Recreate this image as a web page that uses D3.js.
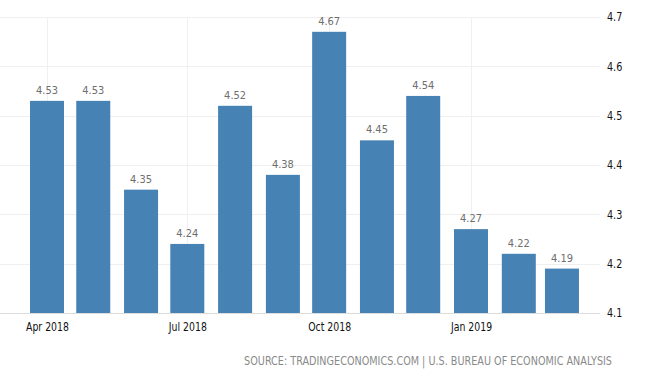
<!DOCTYPE html>
<html>
<head>
<meta charset="utf-8">
<script src="https://cdnjs.cloudflare.com/ajax/libs/d3/7.8.5/d3.min.js"></script>
<style>
    body { margin: 0; background: #fff; }
    text { font-family: "DejaVu Sans", sans-serif; }
</style>
</head>
<body>
<div id="chart"></div>
<script>
// Monthly values (month start dates)
var months = ['2018-04', '2018-05', '2018-06', '2018-07', '2018-08', '2018-09',
              '2018-10', '2018-11', '2018-12', '2019-01', '2019-02', '2019-03'];
var values = [4.53, 4.53, 4.35, 4.24, 4.52, 4.38, 4.67, 4.45, 4.54, 4.27, 4.22, 4.19];
var yTicks = [4.1, 4.2, 4.3, 4.4, 4.5, 4.6, 4.7];
var xTickMonths = ['2018-04', '2018-07', '2018-10', '2019-01'];
var sourceText = 'SOURCE: TRADINGECONOMICS.COM | U.S. BUREAU OF ECONOMIC ANALYSIS';

var width = 648, height = 374;
var plotRight = 600;
var parseMonth = d3.timeParse('%Y-%m');
var data = months.map(function(m, i) { return {date: parseMonth(m), value: values[i]}; });

var svg = d3.select('#chart').append('svg')
    .attr('width', width)
    .attr('height', height);

// the original uses a condensed face, so squeeze the text horizontally
function condensed(sel, k, xFn, yFn) {
    sel.attr('transform', function(d, i) {
        return 'translate(' + xFn(d, i) + ',' + yFn(d, i) + ') scale(' + k + ',1)';
    });
}

// Scales
var x = d3.scaleTime()
    .domain([parseMonth('2018-04'), parseMonth('2019-01')])
    .range([47, 471]);
var y = d3.scaleLinear().domain([4.1, 4.7]).range([313, 17]);
var barWidth = 34;

// Horizontal grid
svg.append('g').selectAll('line')
    .data(yTicks)
    .enter().append('line')
    .attr('x1', 0).attr('x2', plotRight)
    .attr('y1', function(d) { return Math.round(y(d)) + 0.5; })
    .attr('y2', function(d) { return Math.round(y(d)) + 0.5; })
    .attr('stroke', function(d) { return d === 4.1 ? '#dcdcdc' : '#efefef'; })
    .attr('stroke-width', 1);

// Vertical grid
var xTicks = xTickMonths.map(parseMonth);
svg.append('g').selectAll('line')
    .data(xTicks)
    .enter().append('line')
    .attr('x1', function(d) { return Math.round(x(d)) + 0.5; })
    .attr('x2', function(d) { return Math.round(x(d)) + 0.5; })
    .attr('y1', 17).attr('y2', 313)
    .attr('stroke', '#f0f0f0');

// Bars
svg.append('g').selectAll('rect')
    .data(data)
    .enter().append('rect')
    .attr('x', function(d) { return x(d.date) - barWidth / 2; })
    .attr('y', function(d) { return y(d.value); })
    .attr('width', barWidth)
    .attr('height', function(d) { return y(4.1) - y(d.value); })
    .attr('fill', '#4682b4');

// Value labels
svg.append('g').selectAll('text')
    .data(data)
    .enter().append('text')
    .call(condensed, 0.9, function(d) { return x(d.date); }, function(d) { return y(d.value) - 7; })
    .attr('text-anchor', 'middle')
    .attr('font-size', 11)
    .attr('fill', '#6e6e6e')
    .text(function(d) { return d.value.toFixed(2); });

// Y axis (right)
var yAxis = d3.axisRight(y).tickValues(yTicks).tickSize(0).tickPadding(0)
    .tickFormat(d3.format('.1f'));
var gy = svg.append('g')
    .attr('transform', 'translate(607,0)')
    .call(yAxis);
gy.select('.domain').remove();
gy.selectAll('text').attr('font-size', 12).attr('fill', '#111')
    .style('font-family', '"DejaVu Sans", sans-serif')
    .attr('x', null).attr('transform', 'scale(0.8,1)');

// X axis
var xAxis = d3.axisBottom(x).tickValues(xTicks).tickSize(0).tickPadding(0)
    .tickFormat(d3.timeFormat('%b %Y'));
var gx = svg.append('g')
    .attr('transform', 'translate(0,322.5)')
    .call(xAxis);
gx.select('.domain').remove();
gx.selectAll('text').attr('font-size', 12).attr('fill', '#111')
    .style('font-family', '"DejaVu Sans", sans-serif')
    .attr('transform', 'scale(0.78,1)');

// Source
svg.append('text')
    .call(condensed, 0.84, function() { return 612; }, function() { return 365; })
    .attr('text-anchor', 'end')
    .attr('font-size', 11.5)
    .attr('fill', '#8a8a8a')
    .text(sourceText);
</script>
</body>
</html>
